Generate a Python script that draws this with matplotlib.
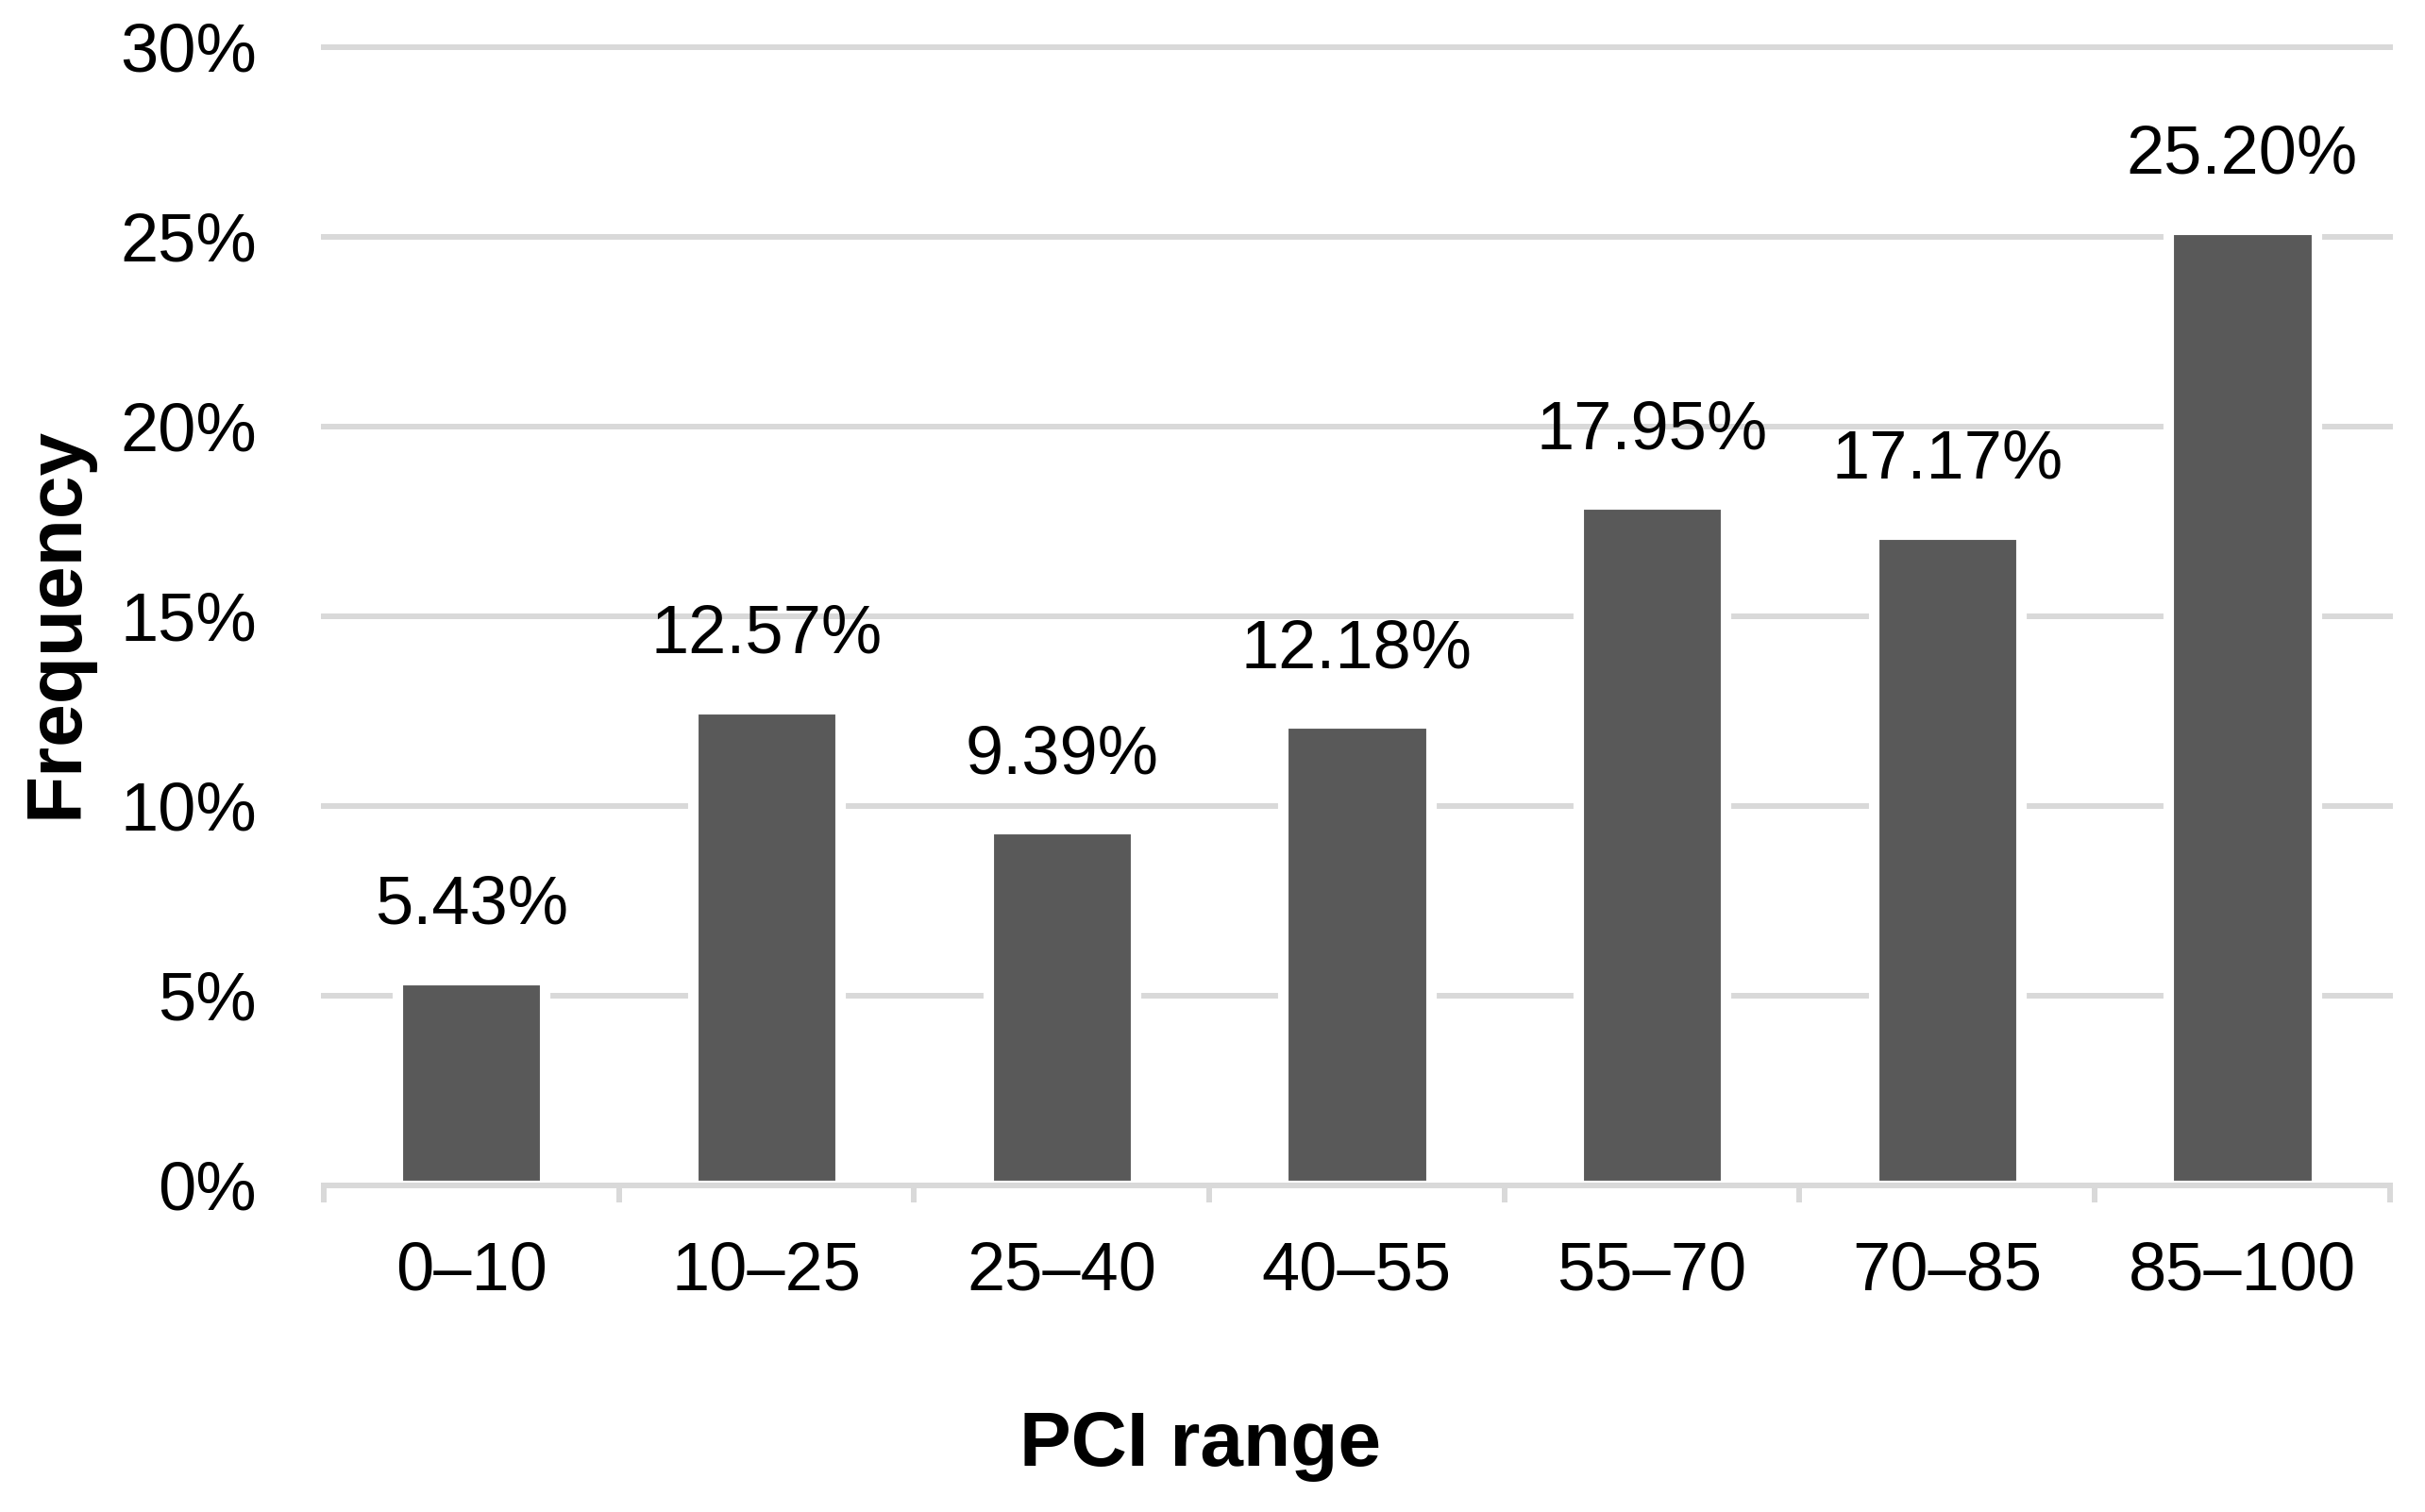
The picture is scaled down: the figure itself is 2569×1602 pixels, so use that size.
import matplotlib.pyplot as plt
from matplotlib.ticker import PercentFormatter, FixedLocator
import numpy as np

plt.rcParams['font.family'] = ['Liberation Sans', 'DejaVu Sans']

# Data
pci_ranges = ['0–10', '10–25', '25–40', '40–55', '55–70', '70–85', '85–100']
frequency = [5.43, 12.57, 9.39, 12.18, 17.95, 17.17, 25.20]
value_labels = ['5.43%', '12.57%', '9.39%', '12.18%', '17.95%', '17.17%', '25.20%']

font_size = 52
grid_color = '#D9D9D9'
bar_color = '#595959'

fig = plt.figure(figsize=(25.69, 16.02), dpi=100)
ax = fig.add_axes([0.1335, 0.216, 0.852, 0.7528])

x = np.arange(len(pci_ranges))
ax.bar(x, frequency, width=0.5, color=bar_color, edgecolor='white',
       linewidth=8, zorder=3)

# value labels above bars
for xi, v, lab in zip(x, frequency, value_labels):
    ax.annotate(lab, (xi, v), xytext=(0, 56), textcoords='offset points',
                ha='center', va='center', fontsize=font_size, zorder=4)

ax.set_xlim(-0.5, len(pci_ranges) - 0.5)
ax.set_ylim(0, 30)
ax.yaxis.set_major_locator(FixedLocator([0, 5, 10, 15, 20, 25, 30]))
ax.yaxis.set_major_formatter(PercentFormatter(xmax=100, decimals=0))

ax.set_xticks(x)
ax.set_xticklabels(pci_ranges)
ax.set_xticks(np.arange(-0.5, len(pci_ranges)), minor=True)

ax.tick_params(axis='x', which='major', length=0, pad=42, labelsize=font_size)
ax.tick_params(axis='x', which='minor', length=13, width=4.3, color=grid_color,
               direction='out')
ax.tick_params(axis='y', which='major', length=0, pad=51, labelsize=font_size)

# grid
ax.set_axisbelow(True)
ax.yaxis.grid(True, color=grid_color, linewidth=4.3)
for line in ax.get_ygridlines():
    line.set_clip_on(False)

for s in ['top', 'left', 'right']:
    ax.spines[s].set_visible(False)
ax.spines['bottom'].set_color(grid_color)
ax.spines['bottom'].set_linewidth(4.3)
ax.spines['bottom'].set_zorder(5)

ax.set_xlabel('PCI range', fontsize=59, fontweight='bold')
ax.xaxis.set_label_coords(0.424, -0.229)
ax.xaxis.label.set_va('center')
ax.set_ylabel('Frequency', fontsize=59, fontweight='bold')
ax.yaxis.set_label_coords(-0.129, 0.495)
ax.yaxis.label.set_va('center')

fig.savefig('out.png', dpi=100)
